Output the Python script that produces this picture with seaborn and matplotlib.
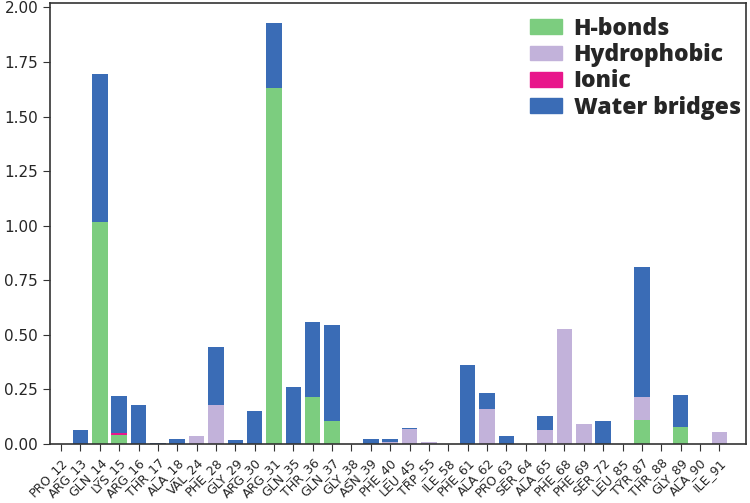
import matplotlib
matplotlib.use("Agg")
import matplotlib.pyplot as plt
import matplotlib.patches as mpatches
import numpy as np
import seaborn as sns

residues = ['PRO_12', 'ARG_13', 'GLN_14', 'LYS_15', 'ARG_16', 'THR_17', 'ALA_18', 'VAL_24',
            'PHE_28', 'GLY_29', 'ARG_30', 'ARG_31', 'GLN_35', 'THR_36', 'GLN_37', 'GLY_38',
            'ASN_39', 'PHE_40', 'LEU_45', 'TRP_55', 'ILE_58', 'PHE_61', 'ALA_62', 'PRO_63',
            'SER_64', 'ALA_65', 'PHE_68', 'PHE_69', 'SER_72', 'LEU_85', 'TYR_87', 'THR_88',
            'GLY_89', 'ALA_90', 'ILE_91']

# interaction fractions per residue (stacked in this order)
hbonds = [0, 0, 1.015, 0.04, 0, 0, 0, 0, 0, 0, 0, 1.633, 0, 0.216, 0.106, 0, 0, 0, 0, 0,
          0, 0, 0, 0, 0, 0, 0, 0, 0, 0, 0.11, 0, 0.077, 0, 0]
hydrophobic = [0, 0, 0, 0, 0, 0, 0, 0.035, 0.179, 0, 0, 0, 0, 0, 0, 0, 0, 0.01, 0.07, 0.01,
               0, 0, 0.161, 0, 0, 0.064, 0.529, 0.092, 0, 0, 0.106, 0, 0, 0, 0.056]
ionic = [0, 0, 0, 0.01, 0, 0, 0, 0, 0, 0, 0, 0, 0, 0, 0, 0, 0, 0, 0, 0,
         0, 0, 0, 0, 0, 0, 0, 0, 0, 0, 0, 0, 0, 0, 0]
water = [0, 0.065, 0.682, 0.17, 0.177, 0.005, 0.022, 0, 0.266, 0.02, 0.152, 0.295, 0.262,
         0.345, 0.437, 0, 0.025, 0.015, 0.005, 0, 0, 0.364, 0.073, 0.035, 0, 0.065, 0, 0,
         0.106, 0, 0.593, 0, 0.148, 0, 0]

labels = ['H-bonds', 'Hydrophobic', 'Ionic', 'Water bridges']
colors = ['#7ccd7f', '#c2b2da', '#e8168b', '#3a6cb6']

sns.set_style("ticks")
plt.rcParams['font.family'] = ['DejaVu Sans']

fig = plt.figure(figsize=(7.5, 5.03), dpi=100)
ax = fig.add_axes([0.0667, 0.1173, 0.928, 0.8767])

bottom = np.zeros(len(residues))
for vals, col in zip([hbonds, hydrophobic, ionic, water], colors):
    sns.barplot(x=residues, y=vals, bottom=bottom, color=col, saturation=1, width=0.8,
                linewidth=0, ax=ax)
    bottom = bottom + np.array(vals)

ax.set_xlim(-0.57, 35.38)
ax.set_ylim(0, 2.02)
ax.set_yticks(np.arange(0, 2.01, 0.25))
ax.set_yticklabels([f'{v:.2f}' for v in np.arange(0, 2.01, 0.25)], fontsize=11)
ax.tick_params(axis='x', labelsize=9, length=5, color='#333333')
ax.tick_params(axis='y', length=5, color='#333333')
plt.setp(ax.get_xticklabels(), rotation=45, ha='right', rotation_mode='anchor')
for s in ax.spines.values():
    s.set_color('#333333')
    s.set_linewidth(1.2)

handles = [mpatches.Patch(color=c, label=l) for c, l in zip(colors, labels)]
ax.legend(handles=handles, loc='upper right', bbox_to_anchor=(1.012, 1.0), frameon=False,
          prop={'family': 'Open Sans', 'weight': 'heavy', 'size': 16.5},
          handlelength=1.4, handleheight=0.6, handletextpad=0.5,
          labelspacing=0.1, borderaxespad=0.2)

fig.savefig("out.png", dpi=100)
